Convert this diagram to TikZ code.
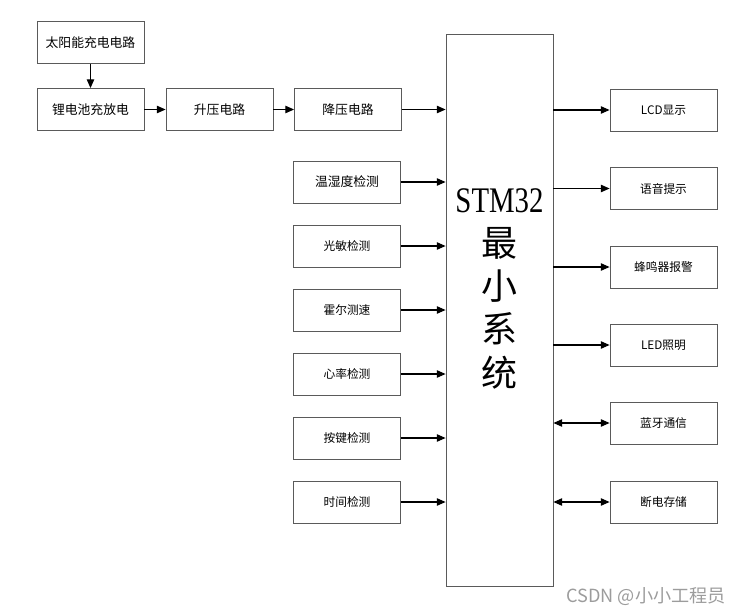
\documentclass[tikz,border=0pt]{standalone}
\usepackage{fontspec}
\setmainfont{Noto Sans CJK SC}
\newfontfamily\latinserif{Liberation Serif}
\usetikzlibrary{arrows.meta}
\definecolor{bline}{HTML}{5A5A5A}
\definecolor{wmark}{HTML}{9C9C9C}

\begin{document}
\begin{tikzpicture}[
  x=.75pt,y=-.75pt,>={Triangle[length=6.5pt,width=5.5pt]},
  blk/.style={draw=bline,line width=.6pt,minimum width=80.25pt,minimum height=31.5pt,
    inner sep=1pt,align=center,font=\fontsize{9.6}{11}\selectfont},
  sblk/.style={blk,font=\fontsize{8.8}{10}\selectfont},
  arrow/.style={->,draw=black,line width=.8pt},
  biarrow/.style={<->,draw=black,line width=.8pt}
]
\path[use as bounding box] (0,0) rectangle (747,615);

% Power chain along the top.
\node[blk] (solar) at (90.5,42.5) {太阳能充电电路};
\node[blk] (batt) at (90.5,109.5) {锂电池充放电};
\node[blk] (boost) at (219.5,109.5) {升压电路};
\node[blk] (buck) at (348,109.5) {降压电路};

% Core controller.
\node[draw=bline,line width=.6pt,minimum width=80.25pt,minimum height=414pt] (mcu) at (499.5,310) {};
\node[align=center,inner sep=0pt,font=\fontsize{27}{32.5}\selectfont] (mcutitle) at (499.5,289)
  {{\latinserif\scalebox{.8}[1]{STM32}}\\最\\小\\系\\统};

% Sensing and input modules on the left.
\node[blk] (humid) at (347,182) {温湿度检测};
\node[sblk] (light) at (347,246) {光敏检测};
\node[sblk] (hall) at (347,310) {霍尔测速};
\node[sblk] (heart) at (347,374) {心率检测};
\node[sblk] (keys) at (347,438) {按键检测};
\node[sblk] (clock) at (347,502) {时间检测};

% Output and communication modules on the right.
\node[sblk] (lcd) at (663.5,110) {LCD显示};
\node[sblk] (voice) at (663.5,188.5) {语音提示};
\node[sblk] (buzz) at (663.5,267) {蜂鸣器报警};
\node[sblk] (led) at (663.5,345) {LED照明};
\node[sblk] (bt) at (663.5,423) {蓝牙通信};
\node[sblk] (store) at (663.5,502) {断电存储};

\draw[arrow] (solar) -- (batt);
\draw[arrow] (batt) -- (boost);
\draw[arrow] (boost) -- (buck);
\draw[arrow] (buck.east) -- (mcu.west |- buck.east);
\draw[arrow] (humid.east) -- (mcu.west |- humid.east);
\draw[arrow] (light.east) -- (mcu.west |- light.east);
\draw[arrow] (hall.east) -- (mcu.west |- hall.east);
\draw[arrow] (heart.east) -- (mcu.west |- heart.east);
\draw[arrow] (keys.east) -- (mcu.west |- keys.east);
\draw[arrow] (clock.east) -- (mcu.west |- clock.east);
\draw[arrow] (mcu.east |- lcd.west) -- (lcd.west);
\draw[arrow] (mcu.east |- voice.west) -- (voice.west);
\draw[arrow] (mcu.east |- buzz.west) -- (buzz.west);
\draw[arrow] (mcu.east |- led.west) -- (led.west);
\draw[biarrow] (mcu.east |- bt.west) -- (bt.west);
\draw[biarrow] (mcu.east |- store.west) -- (store.west);

\node[text=wmark,font=\fontsize{13.6}{15}\selectfont,inner sep=0pt] (mark) at (646,597) {CSDN @小小工程员};
\end{tikzpicture}
\end{document}
